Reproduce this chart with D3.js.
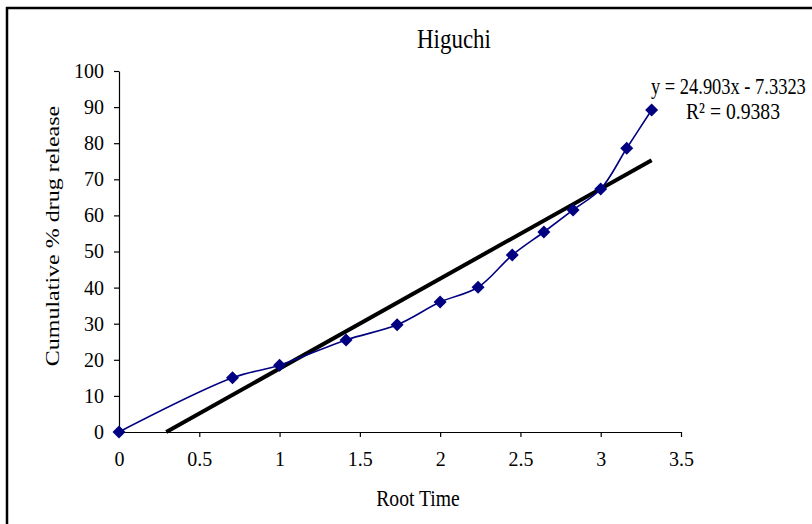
<!DOCTYPE html>
<html>
<head>
<meta charset="utf-8">
<script src="https://cdn.jsdelivr.net/npm/d3@7"></script>
<style>
  body { margin: 0; background: #fff; }
  text { font-family: "Liberation Serif", "Times New Roman", serif; }
</style>
</head>
<body>
<div id="chart"></div>
<script>
// data
var rootTime = [0, 0.707, 1, 1.414, 1.732, 2, 2.236, 2.449, 2.646, 2.828, 3, 3.162, 3.317];
var release  = [0, 15, 18.5, 25.5, 29.7, 36, 40.1, 49, 55.4, 61.5, 67.3, 78.6, 89.2];
var xTicks = [0, 0.5, 1, 1.5, 2, 2.5, 3, 3.5];
var yTicks = [0, 10, 20, 30, 40, 50, 60, 70, 80, 90, 100];
var slope = 24.903, intercept = -7.3323;
var eqText = "y = 24.903x - 7.3323";
var r2Text = "R\u00b2 = 0.9383";

var W = 812, H = 524;
var svg = d3.select("#chart").append("svg").attr("width", W).attr("height", H);

// frame
svg.append("line").attr("x1", 6).attr("x2", W).attr("y1", 8).attr("y2", 8)
  .attr("stroke", "#000").attr("stroke-width", 2.5);
svg.append("line").attr("x1", 7).attr("x2", 7).attr("y1", 7).attr("y2", H)
  .attr("stroke", "#000").attr("stroke-width", 2.5);

var x = d3.scaleLinear().domain([0, 3.5]).range([119, 681]);
var y = d3.scaleLinear().domain([0, 100]).range([432, 71]);

// axes
var xAxis = svg.append("g").attr("transform", "translate(0,432)")
  .call(d3.axisBottom(x).tickValues(xTicks).tickSize(5).tickSizeOuter(0).tickFormat(d3.format("")));
var yAxis = svg.append("g").attr("transform", "translate(119,0)")
  .call(d3.axisLeft(y).tickValues(yTicks).tickSize(5).tickSizeOuter(0));
[xAxis, yAxis].forEach(function (a) {
  a.select(".domain").attr("stroke", "#000").attr("stroke-width", 1.2);
  a.selectAll(".tick line").attr("stroke", "#000").attr("stroke-width", 1.2);
  a.selectAll("text").attr("fill", "#000").style("font-size", "20px")
    .style("font-family", "'Liberation Serif', serif");
});
xAxis.selectAll("text").attr("y", 20);
yAxis.selectAll("text").attr("x", -15);

// trendline from y=0 to max x
var x0 = -intercept / slope, x1 = d3.max(rootTime);
svg.append("line")
  .attr("x1", x(x0)).attr("y1", y(slope * x0 + intercept))
  .attr("x2", x(x1)).attr("y2", y(slope * x1 + intercept))
  .attr("stroke", "#000").attr("stroke-width", 4);

// data series
var pts = rootTime.map(function (d, i) { return [d, release[i]]; });
svg.append("path").datum(pts)
  .attr("fill", "none").attr("stroke", "#000080").attr("stroke-width", 1.6)
  .attr("d", d3.line().x(function (d) { return x(d[0]); }).y(function (d) { return y(d[1]); })
    .curve(d3.curveCatmullRom.alpha(0.5)));
svg.selectAll(".pt").data(pts).enter().append("path")
  .attr("transform", function (d) { return "translate(" + x(d[0]) + "," + y(d[1]) + ")"; })
  .attr("d", "M0,-6.5L6.5,0L0,6.5L-6.5,0Z")
  .attr("fill", "#000080");

// texts (narrow, tall lettering as in the picture)
function label(tx, ty, size, str, anchor) {
  return svg.append("text")
    .attr("transform", "translate(" + tx + "," + ty + ") scale(0.82,1)")
    .attr("text-anchor", anchor || "start")
    .style("font-size", size + "px").text(str);
}
label(454, 48, 28, "Higuchi", "middle");
label(651, 94, 22.5, eqText);
label(686, 119, 24, r2Text);
label(418, 506, 24, "Root Time", "middle");
svg.append("text").attr("transform", "translate(59,236) scale(0.82,1) rotate(-90)")
  .attr("text-anchor", "middle")
  .style("font-size", "24px").text("Cumulative % drug release");
</script>
</body>
</html>
